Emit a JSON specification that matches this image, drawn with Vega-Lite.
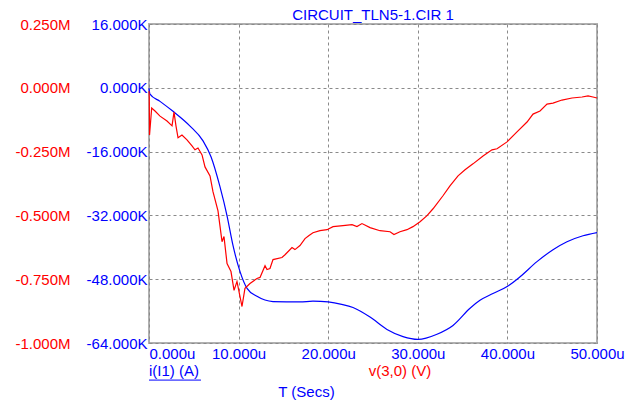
{
  "$schema": "https://vega.github.io/schema/vega-lite/v6.json",
  "width": 448,
  "height": 319,
  "autosize": {"type": "none"},
  "padding": {"left": 149, "top": 24, "right": 38, "bottom": 59},
  "background": "white",
  "config": {
    "font": "Liberation Sans",
    "view": {"stroke": "#b0b0b0", "strokeWidth": 2}
  },
  "title": {"text": "CIRCUIT_TLN5-1.CIR 1", "color": "#0000ff", "fontSize": 15, "fontWeight": "normal", "font": "Liberation Sans", "baseline": "alphabetic", "offset": -18, "anchor": "middle", "frame": "group"},
  "datasets": {
    "current": [
      {"t_us": 0, "i": -100}, {"t_us": 0.11, "i": -1600}, {"t_us": 1.23, "i": -3400}, {"t_us": 2.68, "i": -5900},
      {"t_us": 4.58, "i": -9600}, {"t_us": 6.03, "i": -13300}, {"t_us": 6.92, "i": -17300}, {"t_us": 7.92, "i": -24800},
      {"t_us": 8.71, "i": -32100}, {"t_us": 9.38, "i": -39600}, {"t_us": 10.16, "i": -46100}, {"t_us": 10.94, "i": -50300},
      {"t_us": 12.05, "i": -52300}, {"t_us": 13.84, "i": -53600}, {"t_us": 16.85, "i": -53700}, {"t_us": 18.3, "i": -53500},
      {"t_us": 20, "i": -53700}, {"t_us": 21.5, "i": -54300}, {"t_us": 22.77, "i": -55100}, {"t_us": 24.67, "i": -57500},
      {"t_us": 26.56, "i": -60600}, {"t_us": 28.35, "i": -62400}, {"t_us": 30.02, "i": -63100}, {"t_us": 32.14, "i": -61800},
      {"t_us": 33.93, "i": -59600}, {"t_us": 35.83, "i": -55300}, {"t_us": 36.94, "i": -53300}, {"t_us": 38.39, "i": -51600},
      {"t_us": 40.07, "i": -49700}, {"t_us": 41.41, "i": -47400}, {"t_us": 43.3, "i": -43600}, {"t_us": 45.09, "i": -40600},
      {"t_us": 46.65, "i": -38600}, {"t_us": 48.44, "i": -37100}, {"t_us": 50, "i": -36300}
    ],
    "voltage": [
      {"t_us": 0, "v": -13000}, {"t_us": 0.03, "v": -40000}, {"t_us": 0.06, "v": -185000}, {"t_us": 0.3, "v": -79000},
      {"t_us": 0.67, "v": -91000}, {"t_us": 1.23, "v": -111000}, {"t_us": 2.01, "v": -130000}, {"t_us": 2.57, "v": -149000},
      {"t_us": 2.79, "v": -95000}, {"t_us": 3.01, "v": -149000}, {"t_us": 3.24, "v": -196000}, {"t_us": 3.68, "v": -185000},
      {"t_us": 4.24, "v": -204000}, {"t_us": 4.8, "v": -228000}, {"t_us": 5.13, "v": -243000}, {"t_us": 5.47, "v": -236000},
      {"t_us": 5.92, "v": -263000}, {"t_us": 6.25, "v": -310000}, {"t_us": 6.81, "v": -345000}, {"t_us": 7.14, "v": -407000},
      {"t_us": 7.7, "v": -482000}, {"t_us": 8.15, "v": -603000}, {"t_us": 8.37, "v": -583000}, {"t_us": 8.71, "v": -689000},
      {"t_us": 9.15, "v": -720000}, {"t_us": 9.49, "v": -794000}, {"t_us": 9.82, "v": -759000}, {"t_us": 10.04, "v": -798000},
      {"t_us": 10.38, "v": -857000}, {"t_us": 10.71, "v": -786000}, {"t_us": 11.27, "v": -767000}, {"t_us": 12.05, "v": -747000},
      {"t_us": 12.39, "v": -743000}, {"t_us": 12.95, "v": -697000}, {"t_us": 13.17, "v": -712000}, {"t_us": 13.5, "v": -708000},
      {"t_us": 13.84, "v": -673000}, {"t_us": 14.84, "v": -665000}, {"t_us": 15.18, "v": -654000}, {"t_us": 15.96, "v": -626000},
      {"t_us": 16.29, "v": -634000}, {"t_us": 16.85, "v": -618000}, {"t_us": 17.41, "v": -591000}, {"t_us": 17.86, "v": -579000},
      {"t_us": 18.3, "v": -568000}, {"t_us": 19.08, "v": -560000}, {"t_us": 19.87, "v": -556000}, {"t_us": 20.54, "v": -544000},
      {"t_us": 21.65, "v": -540000}, {"t_us": 22.66, "v": -536000}, {"t_us": 23.21, "v": -544000}, {"t_us": 23.77, "v": -532000},
      {"t_us": 24.67, "v": -548000}, {"t_us": 25.78, "v": -560000}, {"t_us": 26.9, "v": -564000}, {"t_us": 27.34, "v": -575000},
      {"t_us": 28.01, "v": -564000}, {"t_us": 28.79, "v": -556000}, {"t_us": 29.46, "v": -544000}, {"t_us": 30.25, "v": -525000},
      {"t_us": 31.03, "v": -501000}, {"t_us": 31.7, "v": -474000}, {"t_us": 32.81, "v": -423000}, {"t_us": 33.59, "v": -384000},
      {"t_us": 34.49, "v": -345000}, {"t_us": 35.27, "v": -321000}, {"t_us": 36.16, "v": -298000}, {"t_us": 37.28, "v": -267000},
      {"t_us": 38.28, "v": -243000}, {"t_us": 38.84, "v": -239000}, {"t_us": 39.96, "v": -212000}, {"t_us": 41.07, "v": -173000},
      {"t_us": 42.19, "v": -134000}, {"t_us": 42.86, "v": -103000}, {"t_us": 43.64, "v": -91000}, {"t_us": 44.42, "v": -64000},
      {"t_us": 45.09, "v": -60000}, {"t_us": 46.09, "v": -48000}, {"t_us": 47.21, "v": -40000}, {"t_us": 48.33, "v": -36000},
      {"t_us": 49.0, "v": -32000}, {"t_us": 49.55, "v": -36000}, {"t_us": 50, "v": -40000}
    ]
  },
  "layer": [
    {
      "layer": [
        {
          "data": {"name": "current"},
          "mark": {"type": "line", "color": "#0000ff", "strokeWidth": 1.2, "interpolate": "monotone"},
          "encoding": {
            "x": {
              "field": "t_us", "type": "quantitative", "title": "T (Secs)",
              "scale": {"domain": [0, 50], "nice": false},
              "axis": {
                "values": [0, 10, 20, 30, 40, 50],
                "labelExpr": "format(datum.value, '.3f') + 'u'",
                "labelColor": "#0000ff", "labelFontSize": 15, "labelFont": "Liberation Sans",
                "labelFlush": false, "labelOverlap": false, "labelPadding": 3,
                "labelAlign": {"condition": {"test": "datum.value == 0", "value": "left"}, "value": "center"},
                "ticks": false, "domain": false,
                "grid": true, "gridDash": [3, 3], "gridColor": "#8a8a8a", "gridWidth": 1,
                "title": "T (Secs)", "titleColor": "#0000ff", "titleFontSize": 15, "titleFontWeight": "normal",
                "titleFont": "Liberation Sans", "titleX": 157, "titleY": 53, "titleAlign": "center", "titleBaseline": "alphabetic"
              }
            },
            "y": {
              "field": "i", "type": "quantitative",
              "scale": {"domain": [-64000, 16000], "nice": false, "zero": false},
              "axis": {
                "values": [-64000, -48000, -32000, -16000, 0, 16000],
                "labelExpr": "(datum.value < 0 ? '-' : '') + format(abs(datum.value) / 1000, '.3f') + 'K'",
                "labelColor": "#0000ff", "labelFontSize": 15, "labelFont": "Liberation Sans",
                "labelFlush": false, "labelOverlap": false, "labelPadding": 2,
                "ticks": false, "domain": false,
                "grid": true, "gridDash": [3, 3], "gridColor": "#8a8a8a", "gridWidth": 1,
                "title": null
              }
            }
          }
        },
        {
          "data": {"values": [{}]},
          "mark": {"type": "text", "text": "i(I1) (A)", "color": "#0000ff", "fontSize": 15, "font": "Liberation Sans", "align": "left", "baseline": "alphabetic"},
          "encoding": {
            "x": {"datum": 0, "type": "quantitative", "title": "T (Secs)"},
            "y": {"datum": -72300, "type": "quantitative", "title": null}
          }
        },
        {
          "data": {"values": [{}]},
          "mark": {"type": "rule", "color": "#0000ff", "strokeWidth": 1},
          "encoding": {
            "x": {"datum": 0, "type": "quantitative", "title": "T (Secs)"},
            "x2": {"datum": 5.8},
            "y": {"datum": -73300, "type": "quantitative", "title": null}
          }
        },
        {
          "data": {"values": [{}]},
          "mark": {"type": "text", "text": "v(3,0) (V)", "color": "#ff0000", "fontSize": 15, "font": "Liberation Sans", "align": "center", "baseline": "alphabetic"},
          "encoding": {
            "x": {"datum": 28, "type": "quantitative", "title": "T (Secs)"},
            "y": {"datum": -72300, "type": "quantitative", "title": null}
          }
        }
      ]
    },
    {
      "data": {"name": "voltage"},
      "mark": {"type": "line", "color": "#ff0000", "strokeWidth": 1.2},
      "encoding": {
        "x": {"field": "t_us", "type": "quantitative", "title": "T (Secs)"},
        "y": {
          "field": "v", "type": "quantitative",
          "scale": {"domain": [-1000000, 250000], "nice": false, "zero": false},
          "axis": {
            "orient": "left", "offset": 77,
            "values": [-1000000, -750000, -500000, -250000, 0, 250000],
            "labelExpr": "(datum.value < 0 ? '-' : '') + format(abs(datum.value) / 1000000, '.3f') + 'M'",
            "labelColor": "#ff0000", "labelFontSize": 15, "labelFont": "Liberation Sans",
            "labelFlush": false, "labelOverlap": false, "labelPadding": 2,
            "ticks": false, "domain": false, "grid": false,
            "title": null
          }
        }
      }
    }
  ],
  "resolve": {"scale": {"y": "independent"}, "axis": {"y": "independent"}}
}
